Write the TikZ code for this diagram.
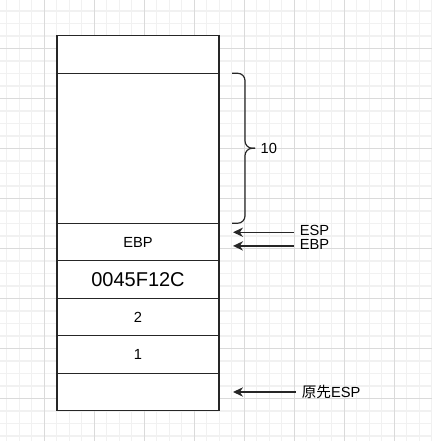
\documentclass[tikz,border=0pt]{standalone}
\usepackage{fontspec}
\setmainfont{Liberation Sans}
\newfontfamily\cjk{Noto Sans CJK SC}
\usepackage{tikz}
\usetikzlibrary{arrows.meta,positioning}
\usepackage{xcolor}
\definecolor{gridmajor}{RGB}{218,218,218}
\definecolor{gridminor}{RGB}{241,241,241}
\definecolor{stackline}{RGB}{38,38,38}

\begin{document}
\begin{tikzpicture}[x=0.75pt, y=-0.75pt,
    cell/.style={rectangle, draw=stackline, fill=white, line width=1pt, outer sep=0pt, inner sep=0pt,
                 minimum width=121.5pt, minimum height=28.125pt, font=\fontsize{11}{13}\selectfont},
    arr/.style={-{Stealth[length=7.5pt, width=7pt, inset=2.4pt]}, line width=1pt, stackline, shorten <=4.5pt},
    lbl/.style={anchor=west, inner sep=0pt, font=\fontsize{11}{13}\selectfont},
    brc/.style={stackline, line width=0.9pt, rounded corners=5.5pt}
]
    \useasboundingbox (0,0) rectangle (432,441);
    \foreach \i in {0,...,34} {
        \draw[gridminor, line width=0.8pt] (6.7+12.5*\i,0) -- (6.7+12.5*\i,441);
        \draw[gridminor, line width=0.8pt] (0,11+12.5*\i) -- (432,11+12.5*\i);
    }
    \foreach \i in {0,...,7} {
        \draw[gridmajor, line width=0.8pt] (44.3+50*\i,0) -- (44.3+50*\i,441);
        \draw[gridmajor, line width=0.8pt] (0,48.3+50*\i) -- (432,48.3+50*\i);
    }

    \node[cell] (top) at (138,54.5) {};
    \node[cell, minimum height=112.5pt, below=0pt of top] (locals) {};
    \node[cell, below=0pt of locals] (oldebp) {EBP};
    \node[cell, below=0pt of oldebp, font=\fontsize{15}{18}\selectfont] (retaddr) {0045F12C};
    \node[cell, below=0pt of retaddr] (argtwo) {2};
    \node[cell, below=0pt of argtwo] (argone) {1};
    \node[cell, below=0pt of argone] (oldesp) {};

    \draw[brc] ([xshift=9.75pt]locals.north east) -| ([xshift=19.5pt]locals.east) -- ([xshift=27pt]locals.east);
    \draw[brc] ([xshift=9.75pt]locals.south east) -| ([xshift=19.5pt]locals.east) -- ([xshift=27pt]locals.east);
    \node[lbl] (size) at ([xshift=31pt]locals.east) {10};

    \coordinate (espptr) at ([xshift=10.5pt, yshift=-6.75pt]oldebp.north east);
    \coordinate (ebpptr) at ([xshift=10.5pt, yshift=-17pt]oldebp.north east);
    \coordinate (prevptr) at ([xshift=10.5pt]oldesp.east);

    \node[lbl] (esp) at (299.5,230) {ESP};
    \node[lbl] (ebp) at (299.5,244.5) {EBP};
    \node[lbl] (prevesp) at (301.5,392) {{\cjk 原先}ESP};

    \draw[arr] (esp.west |- espptr) -- (espptr);
    \draw[arr] (ebp.west |- ebpptr) -- (ebpptr);
    \draw[arr] (prevesp.west |- prevptr) -- (prevptr);
\end{tikzpicture}
\end{document}
